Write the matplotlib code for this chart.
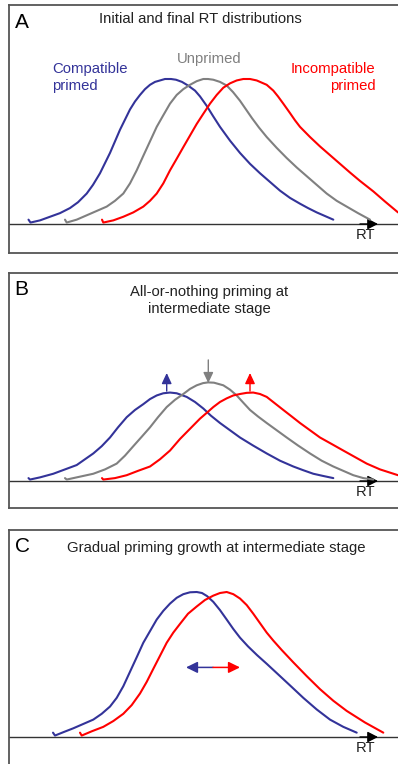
import matplotlib.pyplot as plt

plt.rcParams.update({
    "font.family": ["Liberation Sans", "DejaVu Sans"],
    "font.size": 10.7,
})

BLUE = "#333399"
GRAY = "#808080"
RED = "#ff0000"
EDGE = "#555555"

# ---- data: RT (arbitrary units) and density (panel A peak = 1) ----

# A: initial and final distributions
a_comp_rt = [18.5, 20.5, 30, 40, 50, 60, 68, 76.7, 83, 90, 95, 100, 105, 110, 115, 120, 125, 130, 135, 140, 145,
             150, 155, 161, 166, 172, 178, 185, 190, 196.7, 203, 210, 220, 230, 240, 250, 260, 270, 280, 290, 298,
             306.7, 315, 323.3]
a_comp_d = [0.03, 0.01, 0.025, 0.05, 0.075, 0.11, 0.15, 0.21, 0.27, 0.35, 0.42, 0.49, 0.57, 0.65, 0.72, 0.79, 0.845,
            0.89, 0.93, 0.96, 0.98, 0.99, 1.0, 1.0, 0.995, 0.98, 0.955, 0.92, 0.88, 0.815, 0.745, 0.67, 0.575, 0.49,
            0.415, 0.35, 0.29, 0.23, 0.18, 0.14, 0.11, 0.08, 0.055, 0.03]

a_unp_rt = [55, 56.7, 66.7, 76.7, 86.7, 96.7, 105, 113.3, 120, 126.7, 133.3, 140, 146.7, 153.3, 160, 166.7, 173.3,
            180, 186.7, 193.3, 198, 203.3, 210, 216.7, 223, 230, 236, 242, 249, 256.7, 266.7, 276.7, 286.7, 296.7,
            306.7, 316.7, 326.7, 336.7, 348, 360]
a_unp_d = [0.03, 0.01, 0.03, 0.06, 0.09, 0.12, 0.16, 0.21, 0.28, 0.37, 0.47, 0.57, 0.67, 0.75, 0.83, 0.89, 0.93,
           0.96, 0.985, 1.0, 1.0, 0.995, 0.98, 0.955, 0.91, 0.85, 0.79, 0.73, 0.665, 0.6, 0.525, 0.455, 0.39, 0.33,
           0.27, 0.21, 0.16, 0.12, 0.075, 0.03]

a_inc_rt = [92, 93.3, 103.3, 113.3, 123.3, 133.3, 140, 146.7, 153.3, 160, 166.7, 173.3, 180, 186.7, 193.3, 200,
            206.7, 213.3, 220, 226.7, 233.3, 240, 246.7, 256.7, 263.3, 268, 273.3, 280, 285, 290, 300, 310, 320,
            330, 340, 350, 363.3, 375, 388]
a_inc_d = [0.03, 0.01, 0.025, 0.05, 0.08, 0.12, 0.16, 0.21, 0.28, 0.37, 0.45, 0.53, 0.61, 0.69, 0.76, 0.83, 0.89,
           0.94, 0.97, 0.99, 1.0, 1.0, 0.99, 0.96, 0.92, 0.88, 0.83, 0.765, 0.715, 0.67, 0.6, 0.535, 0.475, 0.415,
           0.355, 0.297, 0.225, 0.155, 0.08]

# B: all-or-nothing priming
b_comp_rt = [18.5, 20, 30, 43.3, 55, 66.7, 75, 83.3, 91.7, 100, 108, 116.7, 125, 133.3, 140, 146.7, 153.3, 160,
             166.7, 176.7, 185, 193.3, 201, 210, 220, 230, 243, 256.7, 270, 283.3, 293, 303.3, 313, 323.3]
b_comp_d = [0.02, 0.01, 0.025, 0.05, 0.08, 0.11, 0.15, 0.19, 0.24, 0.3, 0.37, 0.44, 0.49, 0.53, 0.565, 0.59, 0.605,
            0.61, 0.605, 0.58, 0.545, 0.5, 0.45, 0.4, 0.35, 0.3, 0.245, 0.19, 0.14, 0.1, 0.075, 0.05, 0.035, 0.02]

b_unp_rt = [55, 56.7, 70, 83.3, 95, 106.7, 115, 123.3, 131.7, 140, 148, 156.7, 165, 173.3, 180, 186.7, 193, 198,
            204, 213.3, 220, 226.7, 233.3, 240, 248, 256.7, 266.7, 276.7, 288, 300, 311.7, 323.3, 333.3, 343.3,
            353.3, 363.3]
b_unp_d = [0.02, 0.01, 0.03, 0.05, 0.08, 0.12, 0.175, 0.24, 0.305, 0.37, 0.44, 0.51, 0.56, 0.6, 0.635, 0.66, 0.675,
           0.68, 0.678, 0.66, 0.63, 0.59, 0.54, 0.49, 0.445, 0.4, 0.35, 0.3, 0.245, 0.19, 0.14, 0.1, 0.07, 0.04,
           0.02, 0.01]

b_inc_rt = [92, 93.3, 105, 116.7, 128, 140, 150, 160, 170, 180, 190, 196.7, 203.3, 210, 216.7, 223.3, 230, 236.7,
            243.3, 250, 256.7, 265, 273.3, 281.7, 290, 300, 310, 321.7, 333.3, 345, 356.7, 370, 388]
b_inc_d = [0.02, 0.01, 0.02, 0.04, 0.07, 0.1, 0.15, 0.21, 0.29, 0.36, 0.43, 0.47, 0.51, 0.545, 0.57, 0.59, 0.6,
           0.608, 0.61, 0.6, 0.58, 0.535, 0.49, 0.445, 0.4, 0.35, 0.3, 0.255, 0.21, 0.165, 0.12, 0.08, 0.04]

# peak shifts marked in B: (rt, from, to)
b_shift_comp = (156.7, 0.62, 0.745)
b_shift_unp = (198.3, 0.835, 0.675)
b_shift_inc = (240, 0.62, 0.745)

# C: gradual priming growth
c_comp_rt = [43, 45, 54, 63.3, 73.3, 83.3, 91.7, 100, 106.7, 113.3, 120, 126.7, 133.3, 140, 146.7, 153.3, 160,
             166.7, 173.3, 180, 186.7, 192, 197, 203.3, 210, 216.7, 223.3, 230, 238, 247, 256.7, 270, 281.7, 293.3,
             306.7, 320, 333.3, 346.7]
c_comp_d = [0.03, 0.01, 0.035, 0.06, 0.09, 0.12, 0.16, 0.21, 0.27, 0.35, 0.45, 0.55, 0.65, 0.73, 0.81, 0.87, 0.92,
            0.96, 0.985, 0.998, 1.0, 0.993, 0.972, 0.932, 0.875, 0.81, 0.745, 0.685, 0.625, 0.565, 0.505, 0.42, 0.345,
            0.27, 0.19, 0.12, 0.07, 0.03]

c_inc_rt = [70, 71.7, 82, 93.3, 103.3, 113.3, 121.7, 130, 136.7, 143.3, 150, 156.7, 163.3, 170, 178, 186.7, 195,
            203.3, 210, 216.7, 223.3, 230, 236.7, 243.3, 250, 256.7, 263.3, 271.7, 283.3, 296.7, 310, 323.3, 336.7,
            355, 373.3]
c_inc_d = [0.03, 0.01, 0.04, 0.07, 0.11, 0.16, 0.22, 0.3, 0.38, 0.47, 0.56, 0.65, 0.72, 0.78, 0.85, 0.9, 0.945,
           0.975, 0.993, 1.0, 0.985, 0.955, 0.91, 0.85, 0.785, 0.72, 0.665, 0.6, 0.515, 0.42, 0.33, 0.25, 0.18, 0.1,
           0.03]

c_spread = (176, 203, 230, 0.48)

# ---- figure ----
W, H = 398, 764
fig = plt.figure(figsize=(W / 100, H / 100), dpi=100)


def panel(top_px, bottom_px, axis_px):
    # one box per panel; its right side runs off the figure
    rect = [9.3 / W, 1 - bottom_px / H, (420 - 9.3) / W, (bottom_px - top_px) / H]
    ax = fig.add_axes(rect)
    ax.set_xlim(-0.7, 410)
    ax.set_ylim((axis_px - bottom_px) / 145, (axis_px - top_px) / 145)
    ax.set_xticks([])
    ax.set_yticks([])
    for s in ("left", "top", "bottom"):
        ax.spines[s].set_color(EDGE)
        ax.spines[s].set_linewidth(1.3)
    ax.spines["right"].set_visible(False)
    ax.axhline(0, color="#333333", lw=1.0, zorder=1)
    ax.annotate("", xy=(368, 0), xytext=(350, 0),
                arrowprops=dict(arrowstyle="-|>,head_length=0.58,head_width=0.3",
                                color="black", lw=1.0, shrinkA=0, shrinkB=0))
    ax.text(355.5, -0.105, "RT", ha="center", va="baseline", color="#222222")
    return ax


def curve(ax, x, y, c):
    ax.plot(x, y, color=c, lw=1.5, solid_joinstyle="round", solid_capstyle="round", zorder=3)


def vshift(ax, spec, c):
    x, y0, y1 = spec
    ax.annotate("", xy=(x, y1), xytext=(x, y0),
                arrowprops=dict(arrowstyle="-|>,head_length=0.6,head_width=0.28",
                                color=c, lw=1.0, shrinkA=0, shrinkB=0))


# A
ax = panel(5.3, 253.3, 224)
curve(ax, a_comp_rt, a_comp_d, BLUE)
curve(ax, a_unp_rt, a_unp_d, GRAY)
curve(ax, a_inc_rt, a_inc_d, RED)
ax.text(4.5, 1.35, "A", fontsize=15, va="baseline", ha="left")
ax.text(190, 1.388, "Initial and final RT distributions", ha="center", va="baseline", color="#222222")
ax.text(42, 1.043, "Compatible", color=BLUE, ha="left", va="baseline")
ax.text(42, 0.924, "primed", color=BLUE, ha="left", va="baseline")
ax.text(199, 1.108, "Unprimed", color=GRAY, ha="center", va="baseline")
ax.text(365.5, 1.043, "Incompatible", color=RED, ha="right", va="baseline")
ax.text(365.5, 0.924, "primed", color=RED, ha="right", va="baseline")

# B
ax = panel(273.3, 508.3, 481)
curve(ax, b_comp_rt, b_comp_d, BLUE)
curve(ax, b_unp_rt, b_unp_d, GRAY)
curve(ax, b_inc_rt, b_inc_d, RED)
vshift(ax, b_shift_comp, BLUE)
vshift(ax, b_shift_unp, GRAY)
vshift(ax, b_shift_inc, RED)
ax.text(4.5, 1.283, "B", fontsize=15, va="baseline", ha="left")
ax.text(199, 1.276, "All-or-nothing priming at", ha="center", va="baseline", color="#222222")
ax.text(199, 1.161, "intermediate stage", ha="center", va="baseline", color="#222222")

# C
ax = panel(530, 790, 737)
curve(ax, c_comp_rt, c_comp_d, BLUE)
curve(ax, c_inc_rt, c_inc_d, RED)
left, mid, right, yy = c_spread
ax.annotate("", xy=(left, yy), xytext=(mid, yy),
            arrowprops=dict(arrowstyle="-|>,head_length=0.65,head_width=0.32",
                            color=BLUE, lw=1.1, shrinkA=0, shrinkB=0))
ax.annotate("", xy=(right, yy), xytext=(mid, yy),
            arrowprops=dict(arrowstyle="-|>,head_length=0.65,head_width=0.32",
                            color=RED, lw=1.1, shrinkA=0, shrinkB=0))
ax.text(4.5, 1.278, "C", fontsize=15, va="baseline", ha="left")
ax.text(205.8, 1.278, "Gradual priming growth at intermediate stage", ha="center", va="baseline", color="#222222")

fig.savefig("out.png", dpi=100)
